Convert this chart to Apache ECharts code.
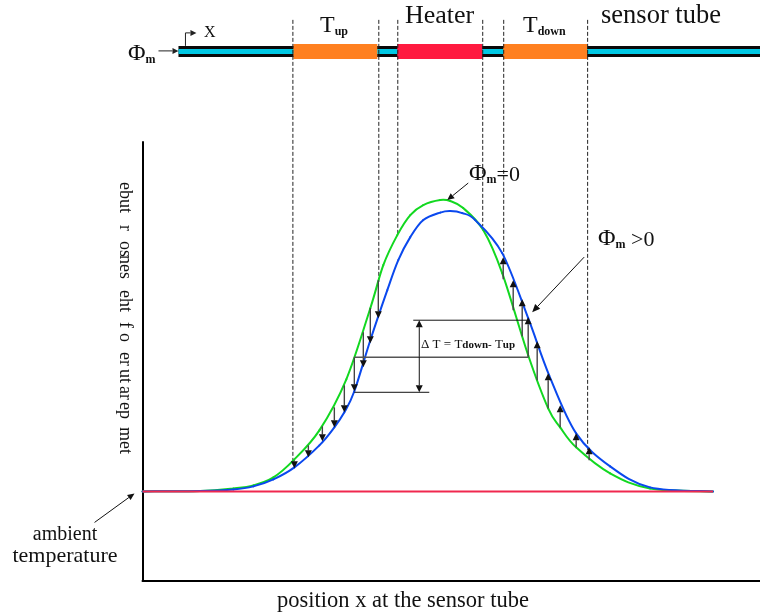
<!DOCTYPE html>
<html><head><meta charset="utf-8">
<style>html,body{margin:0;padding:0;background:#fff}#c{width:760px;height:614px}</style>
<script src="https://cdn.jsdelivr.net/npm/echarts@6/dist/echarts.min.js"></script>
</head><body><div id="c"></div>
<script>
// position along the tube, temperature above ambient
const greenX=[142,200,233,253,273,293,319,346,370,383,397,410,423,440,450,463,483,502,528,548,560,576,610,650,713];
const greenT=[0,0.5,3,6,14,31,61,112,183,226,256,276,286,291,290,283,261,218,136,83,64,44,18,3,0];
const blueX=[142,200,233,253,273,294,319,334,344,354,370,387,398,410,423,440,450,462,475,502,528,549,576,610,650,713];
const blueT=[0,0.5,2,5,12,24,46,64,79,100,151,201,231,254,271,278.5,280,278,271,238,173,116,58,25,4,0];
const ambientX=[142,713];
const ambientT=[0,0];
const downX=[294,308,322,334,344,354,363,370,378];
const downFrom=[31,46,65,84,106,134,159,183,211];
const downTo=[23,34,50,64,79,100,124,148,173];
const upX=[503,513,522,528,537,548,560,576,589];
const upFrom=[212,181,155,134,111,83,64,44,31];
const upTo=[234,211,192,174,150,118,86,58,44];
const dashX=[292,378,397,482,503,587];
const dashEnd=[27,209,256,265,234,41];
const segStart=[293,397,503];
const segEnd=[377,482,587];
const segNames=['Tup','Heater','Tdown'];

const AMB_PX=491;               // pixel row of the ambient line
const t=px=>AMB_PX-px;          // reference pixel row -> axis value
const SERIF='"Liberation Serif","Times New Roman",serif';
const segColor={Tup:'#ff8020',Heater:'#ff1a40',Tdown:'#ff8020'};

function arrowShapes(api,x1,y1,x2,y2,opt){
  const a=api.coord([x1,y1]),b=api.coord([x2,y2]);
  const col=opt.color||'#000',w=opt.width||1,L=opt.len||7,H=opt.half||3.5;
  const dx=b[0]-a[0],dy=b[1]-a[1],d=Math.hypot(dx,dy)||1,ux=dx/d,uy=dy/d;
  const base=opt.head===false?b:[b[0]-ux*L,b[1]-uy*L];
  const out=[{type:'line',shape:{x1:a[0],y1:a[1],x2:base[0],y2:base[1]},style:{stroke:opt.lineColor||col,lineWidth:w}}];
  if(opt.head!==false)out.push({type:'polygon',shape:{points:[b,[base[0]-uy*H,base[1]+ux*H],[base[0]+uy*H,base[1]-ux*H]]},style:{fill:col}});
  return out;
}
const zipRows=(...cols)=>cols[0].map((_,i)=>cols.map(c=>c[i]));

// pointer arrows and guide lines (x1,t1,x2,t2,head,colour,headLength,headHalf,width)
const pointers=[
 [158,t(51),178,t(51),1,'#222',6,3,1],
 [185,t(46),185,t(33),0,'#222',0,0,1],
 [185,t(33),196,t(33),1,'#222',6,3,1],
 [468,t(183),447,t(200),1,'#111',7,3.2,1],
 [584,t(257),532,t(312),1,'#111',8,3.5,1],
 [94,t(522),134,t(493),1,'#111',7,3,1],
 [413,t(320),528,t(320),0,'#111',0,0,1],
 [354,t(357),528,t(357),0,'#555',0,0,1.4],
 [354,t(392),429,t(392),0,'#111',0,0,1],
 [419,t(356),419,t(320),1,'#111',7,3.5,1],
 [419,t(356),419,t(392),1,'#111',7,3.5,1]
];

const customs=[
 {name:'tube',type:'custom',silent:true,z:1,data:[[178,760]],renderItem:(p,api)=>{
   const x0=api.coord([api.value(0),t(46)]),x1=api.coord([api.value(1),t(57)]);
   const c0=api.coord([api.value(0),t(49)]),c1=api.coord([api.value(1),t(54)]);
   return {type:'group',children:[
     {type:'rect',shape:{x:x0[0],y:x0[1],width:x1[0]-x0[0],height:x1[1]-x0[1]},style:{fill:'#0a0a0a'}},
     {type:'rect',shape:{x:c0[0],y:c0[1],width:c1[0]-c0[0],height:c1[1]-c0[1]},style:{fill:'#00c8e4'}}]};
 },encode:{x:[0,1]}},
 {name:'segments',type:'custom',silent:true,z:2,data:zipRows(segStart,segEnd,segNames),renderItem:(p,api)=>{
   const a=api.coord([api.value(0),t(44)]),b=api.coord([api.value(1),t(59)]);
   return {type:'rect',shape:{x:a[0],y:a[1],width:b[0]-a[0],height:b[1]-a[1]},style:{fill:segColor[segNames[p.dataIndex]]}};
 },encode:{x:[0,1]}},
 {name:'dashes',type:'custom',silent:true,z:3,data:zipRows(dashX,dashEnd),renderItem:(p,api)=>{
   const a=api.coord([api.value(0),t(20)]),b=api.coord([api.value(0),api.value(1)]);
   return {type:'line',shape:{x1:a[0]+.5,y1:a[1],x2:b[0]+.5,y2:b[1]},style:{stroke:'#222',lineWidth:1,lineDash:[4,2]}};
 },encode:{x:0,y:1}},
 {name:'down',type:'custom',silent:true,z:6,data:zipRows(downX,downFrom,downTo),renderItem:(p,api)=>({type:'group',children:arrowShapes(api,api.value(0),api.value(1),api.value(0),api.value(2),{color:'#111',lineColor:'#444',width:1.4})}),encode:{x:0,y:[1,2]}},
 {name:'up',type:'custom',silent:true,z:6,data:zipRows(upX,upFrom,upTo),renderItem:(p,api)=>({type:'group',children:arrowShapes(api,api.value(0),api.value(1),api.value(0),api.value(2),{color:'#111',lineColor:'#444',width:1.4})}),encode:{x:0,y:[1,2]}},
 {name:'pointers',type:'custom',silent:true,z:7,data:pointers,renderItem:(p,api)=>{
   const r=pointers[p.dataIndex];
   return {type:'group',children:arrowShapes(api,r[0],r[1],r[2],r[3],{head:!!r[4],color:r[5],len:r[6],half:r[7],width:r[8]})};
 },encode:{x:[0,2],y:[1,3]}}
];

const pair=(xs,ys)=>xs.map((x,i)=>[x,ys[i]]);
// a smooth curve through the read points, one bezier span per datum (Catmull-Rom tangents)
const curve=(name,xs,ys,color,z)=>{
  const pts=pair(xs,ys);
  return {name,type:'custom',silent:true,z,data:pts,encode:{x:0,y:1},renderItem:(p,api)=>{
    const i=p.dataIndex;
    if(i>=pts.length-1)return null;
    const P=k=>api.coord(pts[Math.max(0,Math.min(pts.length-1,k))]);
    const p0=P(i-1),p1=P(i),p2=P(i+1),p3=P(i+2);
    return {type:'bezierCurve',shape:{x1:p1[0],y1:p1[1],x2:p2[0],y2:p2[1],
      cpx1:p1[0]+(p2[0]-p0[0])/6,cpy1:p1[1]+(p2[1]-p0[1])/6,
      cpx2:p2[0]-(p3[0]-p1[0])/6,cpy2:p2[1]-(p3[1]-p1[1])/6},
      style:{stroke:color,lineWidth:2,fill:null,lineCap:'round'}};
  }};
};

const rich={
 big:{fontFamily:SERIF,fontSize:24,fill:'#111',verticalAlign:'bottom',lineHeight:26},
 eq:{fontFamily:SERIF,fontSize:22,fill:'#111',verticalAlign:'bottom',lineHeight:26},
 sub:{fontFamily:SERIF,fontSize:12,fontWeight:'bold',fill:'#111',verticalAlign:'bottom',lineHeight:20},
 sub2:{fontFamily:SERIF,fontSize:11,fontWeight:'bold',fill:'#111',verticalAlign:'bottom',lineHeight:18},
 n:{fontFamily:SERIF,fontSize:13,fill:'#111',verticalAlign:'bottom',lineHeight:18}
};
const label=(text,x,y,size,align)=>({type:'text',x,y,z:20,style:{text,x:0,y:0,fontFamily:SERIF,fontSize:size,fill:'#111',align:align||'left',verticalAlign:'middle',rich}});
const sideFrag=[['ebut',182],['r',225],['os',241],['nes',255],['eht',290],['f',322],['o',333],['er',352],['ut',369],['ar',386],['ep',402],['met',427]];
const sideText=sideFrag.map(([s,y])=>({type:'text',x:125,y,rotation:-Math.PI/2,z:20,style:{text:s,x:0,y:0,fontFamily:SERIF,fontSize:18,fill:'#111',align:'left',verticalAlign:'middle'}}));

const graphic=[
 label('Heater',405,16,26),
 label('sensor tube',601,16,26.5),
 label('{big|T}{sub|up}',320,25,0),
 label('{big|T}{sub|down}',523,25,0),
 label('{big|Φ}{sub|m}',128,53,0),
 label('X',204,33,16),
 label('{big|Φ}{sub|m}{eq|=0}',469,173,0),
 label('{big|Φ}{sub|m}{eq| >0}',598,238,0),
 label('{n|Δ T = T}{sub2|down-}{n| T}{sub2|up}',421,342,0),
 label('ambient',65,535,20,'center'),
 label('temperature',65,556,22,'center'),
 label('position x at the sensor tube',403,601,22.5,'center'),
 ...sideText
];

const chart=echarts.init(document.getElementById('c'),null,{renderer:'canvas'});
chart.setOption({
 animation:false,
 backgroundColor:'#fff',
 grid:{left:142.5,top:142,width:617.5,height:438.5,containLabel:false},
 xAxis:{type:'value',min:142,max:760,splitLine:{show:false},axisTick:{show:false},axisLabel:{show:false},axisLine:{show:true,onZero:false,lineStyle:{color:'#000',width:2}}},
 yAxis:{type:'value',min:-89,max:349,splitLine:{show:false},axisTick:{show:false},axisLabel:{show:false},axisLine:{show:true,onZero:false,lineStyle:{color:'#000',width:2}}},
 series:[...customs,
  curve('Φm = 0',greenX,greenT,'#12d820',4),
  curve('Φm > 0',blueX,blueT,'#0a48ee',5),
  {name:'ambient',type:'line',symbol:'none',z:5,silent:true,data:pair(ambientX,ambientT),lineStyle:{color:'#f0284f',width:2}}
 ],
 graphic
});
</script></body></html>
